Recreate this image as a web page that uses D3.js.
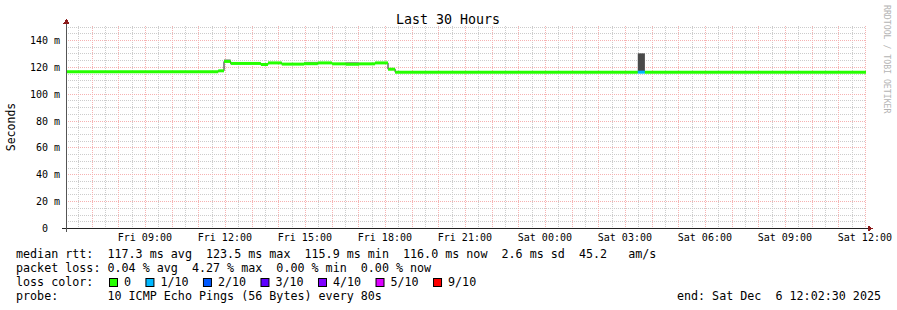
<!DOCTYPE html>
<html>
<head>
<meta charset="utf-8">
<script src="https://cdn.jsdelivr.net/npm/d3@7"></script>
<style>
  html, body { margin: 0; padding: 0; background: #fff; }
  svg { display: block; }
  text { font-family: "DejaVu Sans Mono", monospace; white-space: pre; }
</style>
</head>
<body>
<svg id="chart" width="897" height="310"></svg>
<script>
// chart values
const startTime = "2025-12-05 06:02:30";
const endTime = "2025-12-06 12:02:30";
const segStart = ["2025-12-05 06:02:30", "2025-12-05 11:45:00", "2025-12-05 11:58:00", "2025-12-05 12:13:00",
  "2025-12-05 13:21:00", "2025-12-05 13:37:00", "2025-12-05 14:08:00", "2025-12-05 14:58:00",
  "2025-12-05 15:29:00", "2025-12-05 16:01:00", "2025-12-05 16:32:00", "2025-12-05 17:02:00",
  "2025-12-05 17:38:00", "2025-12-05 18:07:00", "2025-12-05 18:23:00", "2025-12-06 03:29:00",
  "2025-12-06 03:45:00"];
const medianMs = [116.3, 117.0, 124.0, 122.5, 121.7, 122.9, 122.0, 122.3, 122.9, 122.2, 121.9, 122.2, 122.9, 118.2, 116.0, 116.0, 116.0];
const smokeLoMs = [116.0, 116.8, 123.6, 122.2, 121.4, 122.6, 121.7, 122.0, 122.6, 121.9, 121.6, 121.9, 122.6, 117.9, 115.8, 116.0, 115.8];
const smokeHiMs = [116.6, 117.3, 125.6, 122.8, 122.0, 123.2, 122.6, 123.7, 123.2, 122.5, 123.6, 122.5, 123.2, 118.5, 116.3, 130.0, 116.3];
const lossIdx = [0, 0, 0, 0, 0, 0, 0, 0, 0, 0, 0, 0, 0, 0, 0, 1, 0];

const lossLabels = ["0", "1/10", "2/10", "3/10", "4/10", "5/10", "9/10"];
const lossColors = ["#26ff00", "#00b8ff", "#0059ff", "#5e00ff", "#7e00ff", "#dd00ff", "#ff0000"];
const yTicks = [0, 20, 40, 60, 80, 100, 120, 140];

const legendLines = [
  "median rtt:  117.3 ms avg  123.5 ms max  115.9 ms min  116.0 ms now  2.6 ms sd  45.2   am/s",
  "packet loss: 0.04 % avg  4.27 % max  0.00 % min  0.00 % now"
];
const probeText = "probe:       10 ICMP Echo Pings (56 Bytes) every 80s";
const endText = "end: Sat Dec  6 12:02:30 2025";

const parse = d3.timeParse("%Y-%m-%d %H:%M:%S");
const t0 = parse(startTime), t1 = parse(endTime);
const segs = segStart.map((s, i) => ({
  from: parse(s),
  to: i + 1 < segStart.length ? parse(segStart[i + 1]) : t1,
  med: medianMs[i], lo: smokeLoMs[i], hi: smokeHiMs[i], loss: lossIdx[i]
}));

const pl = 66, pr = 866, pt = 26.5, pb = 228;
const svg = d3.select("#chart");
const x = d3.scaleTime().domain([t0, t1]).range([pl, pr]);
const y = d3.scaleLinear().domain([0, 150]).range([pb, pt]);
const px = v => Math.round(v) + 0.5;

// grid
const grid = svg.append("g").attr("shape-rendering", "crispEdges");
grid.append("g").selectAll("line").data(d3.range(5, 151, 5).filter(v => v % 20)).join("line")
  .attr("x1", pl).attr("x2", pr).attr("y1", d => px(y(d))).attr("y2", d => px(y(d)))
  .attr("stroke", "#cccccc").attr("stroke-dasharray", "1,1");
grid.append("g").selectAll("line").data(d3.timeMinute.every(30).range(t0, t1).filter(d => d.getMinutes() !== 0)).join("line")
  .attr("x1", d => px(x(d))).attr("x2", d => px(x(d))).attr("y1", 26).attr("y2", pb)
  .attr("stroke", "#cccccc").attr("stroke-dasharray", "1,1");
grid.append("g").selectAll("line").data(yTicks.filter(v => v > 0)).join("line")
  .attr("x1", pl).attr("x2", pr).attr("y1", d => px(y(d))).attr("y2", d => px(y(d)))
  .attr("stroke", "#f6b2b2").attr("stroke-dasharray", "1,1");
grid.append("g").selectAll("line").data(d3.timeHour.every(1).range(t0, t1)).join("line")
  .attr("x1", d => px(x(d))).attr("x2", d => px(x(d))).attr("y1", 26).attr("y2", pb)
  .attr("stroke", "#f6b2b2").attr("stroke-dasharray", "1,1");

// smoke
const shade = d3.scaleLinear().domain([0, 14]).range(["#a8a8a8", "#4a4a4a"]);
svg.append("g").selectAll("rect").data(segs).join("rect")
  .attr("x", d => x(d.from)).attr("width", d => x(d.to) - x(d.from))
  .attr("y", d => y(d.hi)).attr("height", d => y(d.lo) - y(d.hi))
  .attr("fill", d => shade(d.hi - d.lo));

// median: thin dark step line, then loss-coloured segments
const pts = segs.map(d => [d.from, d.med]).concat([[t1, segs[segs.length - 1].med]]);
svg.append("path").datum(pts)
  .attr("d", d3.line().x(d => x(d[0])).y(d => y(d[1])).curve(d3.curveStepAfter))
  .attr("fill", "none").attr("stroke", "#202020").attr("stroke-width", 1);
const seg = d3.line().x(d => x(d[0])).y(d => y(d[1]));
svg.append("g").selectAll("path").data(segs).join("path")
  .attr("d", d => seg([[d.from, d.med], [d.to, d.med]]))
  .attr("fill", "none").attr("stroke", d => lossColors[d.loss]).attr("stroke-width", 3);

// axes
const axisG = svg.append("g").attr("shape-rendering", "crispEdges");
axisG.append("line").attr("x1", pl - 4).attr("x2", pr + 3).attr("y1", pb + 0.5).attr("y2", pb + 0.5)
  .attr("stroke", "#222");
axisG.append("line").attr("x1", pl + 0.5).attr("x2", pl + 0.5).attr("y1", pb + 4).attr("y2", pt - 4)
  .attr("stroke", "#555");
axisG.append("path").attr("d", `M${pr + 2},${pb - 2.5}L${pr + 7},${pb + 0.5}L${pr + 2},${pb + 3.5}Z`).attr("fill", "#8b1a1a");
axisG.append("path").attr("d", `M${pl - 2.5},${pt - 3}L${pl + 0.5},${pt - 8}L${pl + 3.5},${pt - 3}Z`).attr("fill", "#8b1a1a");

// y labels
svg.append("g").selectAll("text").data(yTicks).join("text")
  .attr("x", d => d === 0 ? 48 : 60).attr("y", d => y(d) + 4)
  .attr("text-anchor", "end").attr("font-size", "10px").attr("fill", "#000")
  .text(d => d === 0 ? "0" : d + " m");

// x labels
const fmt = d3.timeFormat("%a %H:%M");
svg.append("g").selectAll("text").data(d3.timeHour.every(3).range(t0, t1)).join("text")
  .attr("x", d => x(d)).attr("y", 241)
  .attr("text-anchor", "middle").attr("font-size", "10px").attr("fill", "#000")
  .text(d => fmt(d));

// title and axis title
svg.append("text").attr("x", 448).attr("y", 24).attr("text-anchor", "middle")
  .attr("font-size", "13.3px").text("Last 30 Hours");
svg.append("text").attr("transform", "translate(15,127) rotate(-90)").attr("text-anchor", "middle")
  .attr("font-size", "11.5px").text("Seconds");
svg.append("text").attr("transform", "translate(884,5) rotate(90)").attr("text-anchor", "start")
  .attr("font-size", "8.2px").attr("fill", "#b4b4b4").text("RRDTOOL / TOBI OETIKER");

// legend
const fs = "11.7px";
legendLines.forEach((l, i) => {
  svg.append("text").attr("x", 16).attr("y", 258 + i * 14).attr("font-size", fs).text(l);
});
svg.append("text").attr("x", 16).attr("y", 286).attr("font-size", fs).text("loss color:");
const cw = 7.03;
let lx = 109;
lossLabels.forEach((lab, i) => {
  svg.append("rect").attr("x", lx + 0.5).attr("y", 278.5).attr("width", 8).attr("height", 8)
    .attr("fill", lossColors[i]).attr("stroke", "#000").attr("stroke-width", 1);
  svg.append("text").attr("x", lx + 15).attr("y", 286).attr("font-size", fs).text(lab);
  lx += 15 + lab.length * cw + 14.4;
});
svg.append("text").attr("x", 16).attr("y", 300).attr("font-size", fs).text(probeText);
svg.append("text").attr("x", 881).attr("y", 300).attr("text-anchor", "end").attr("font-size", fs).text(endText);
</script>
</body>
</html>
